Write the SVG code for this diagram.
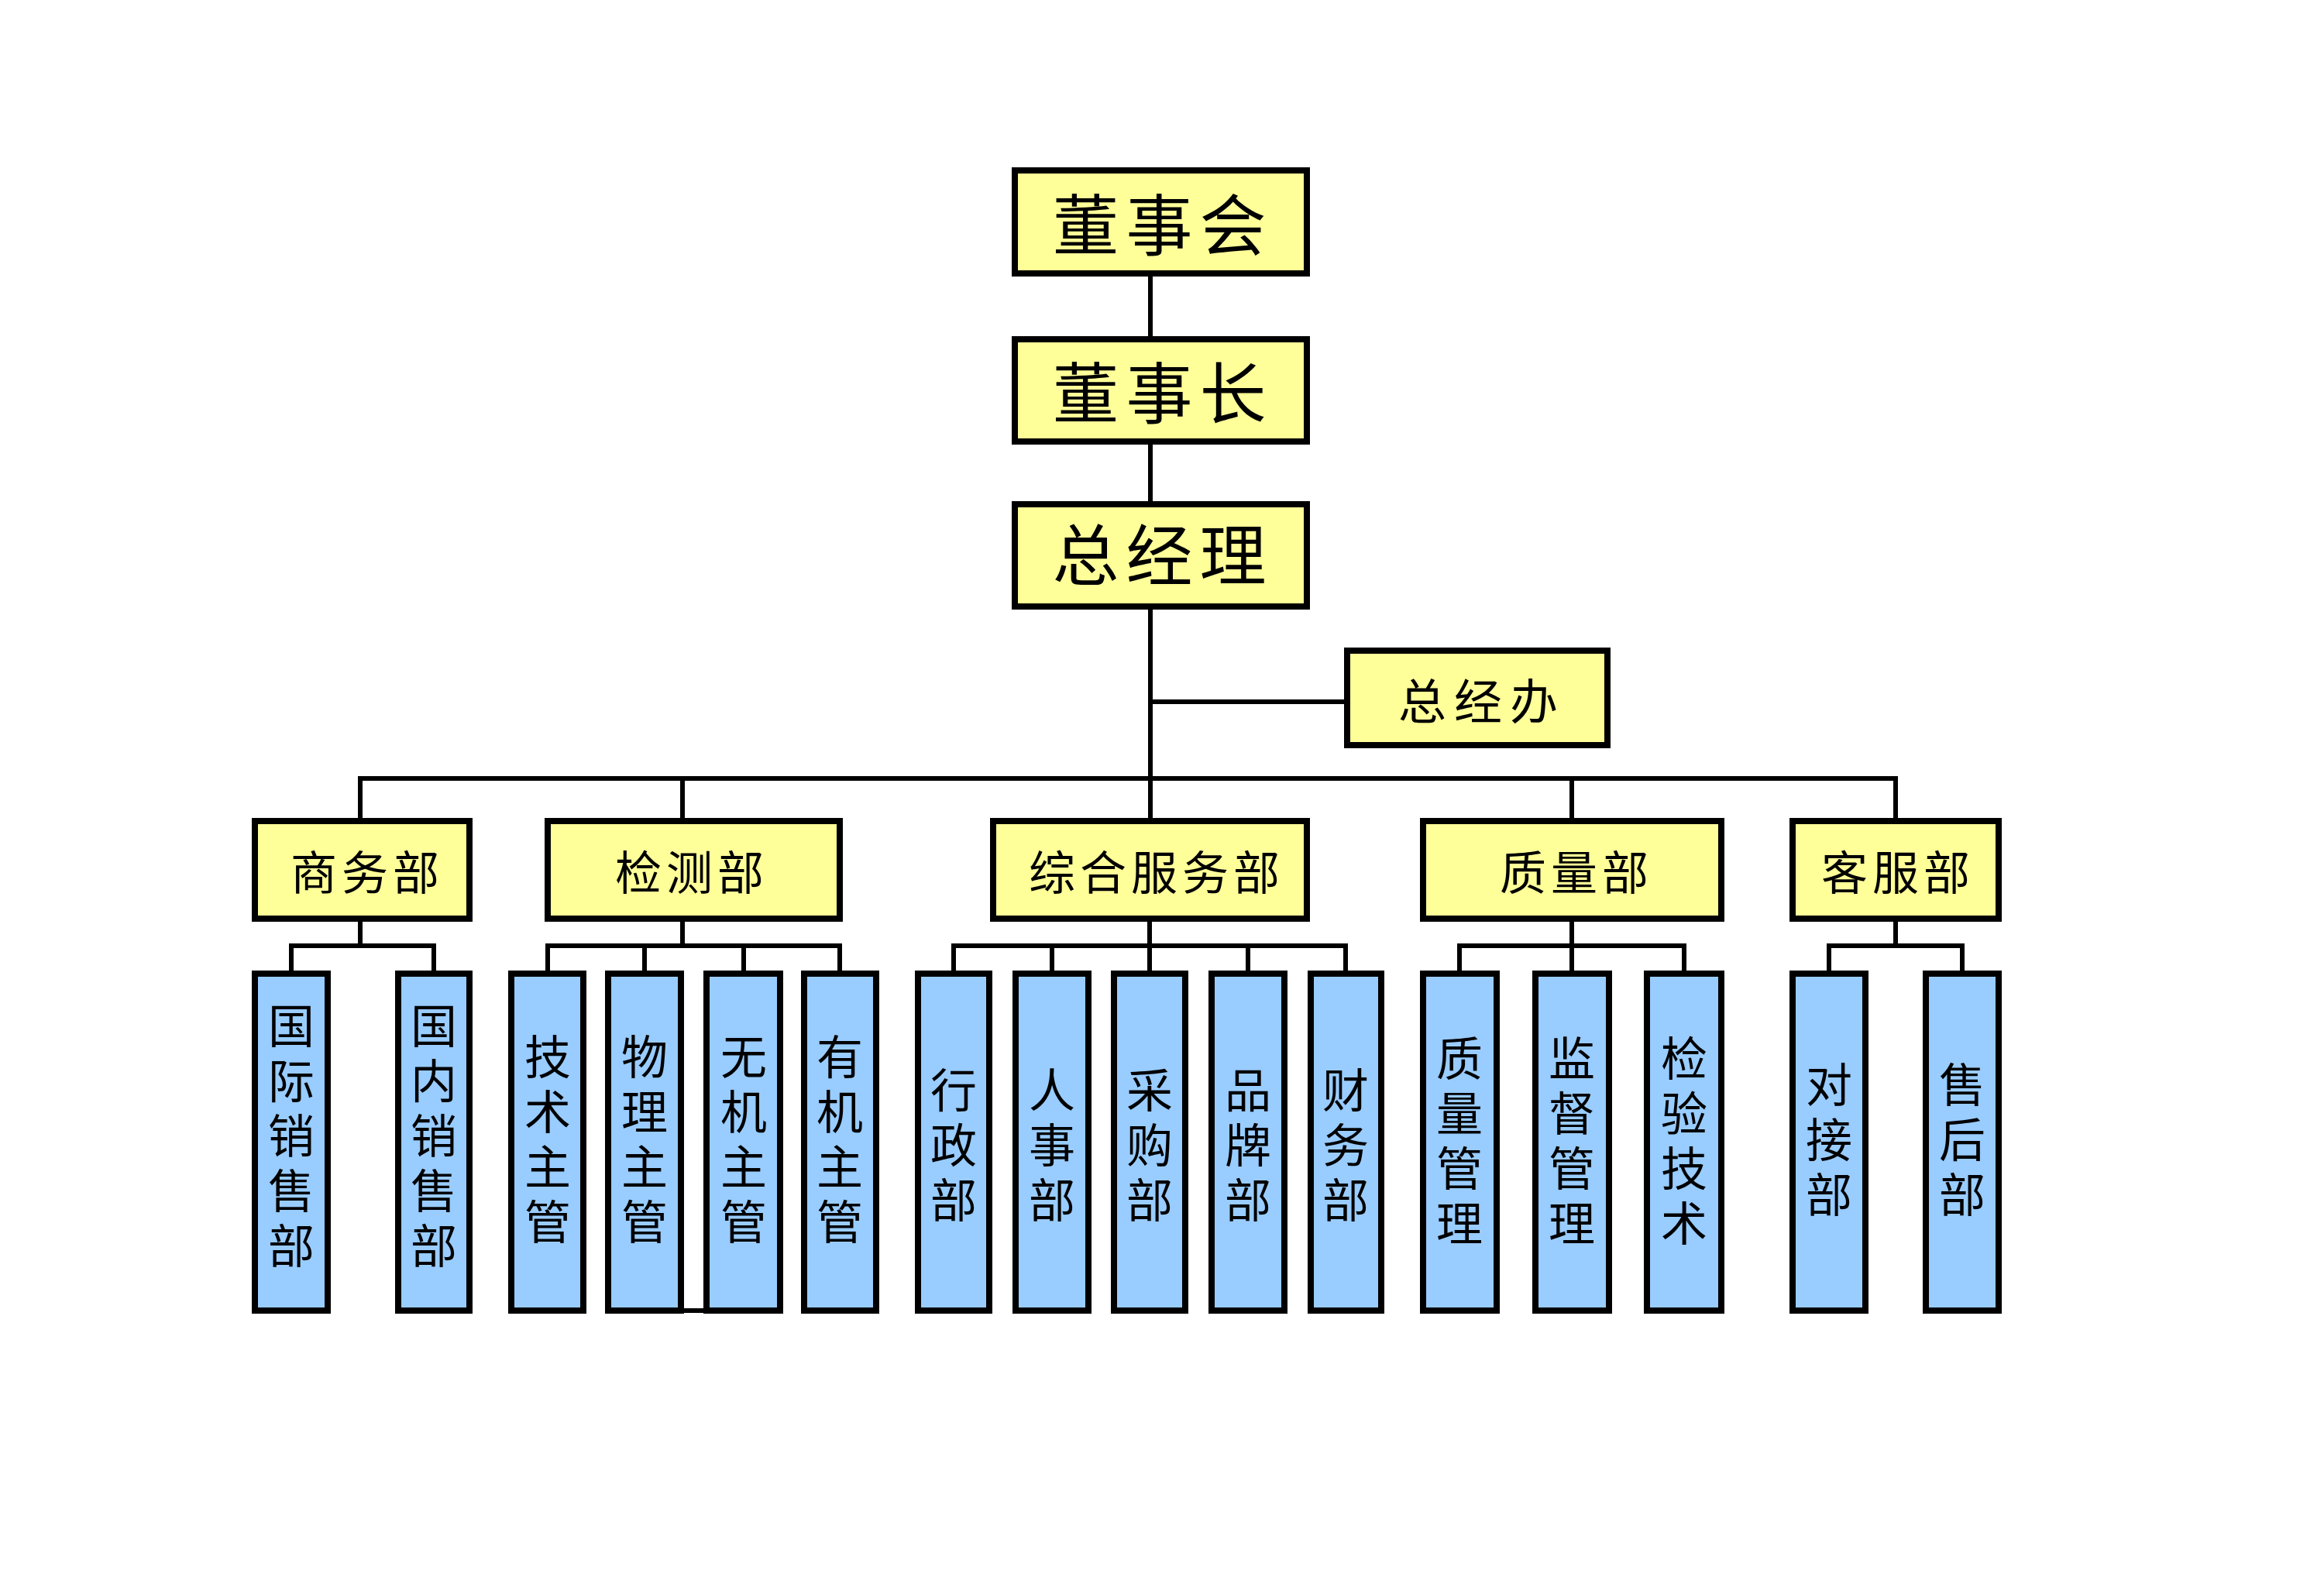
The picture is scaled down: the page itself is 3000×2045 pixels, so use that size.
<svg xmlns="http://www.w3.org/2000/svg" width="3000" height="2045" viewBox="0 0 3000 2045">
<style>
.y{fill:#FFFF99;stroke:#000;stroke-width:8}
.b{fill:#99CCFF;stroke:#000;stroke-width:8}
.c{fill:none;stroke:#000;stroke-width:6;stroke-linejoin:miter;stroke-linecap:square}
.t{font-family:"Noto Sans CJK SC","Noto Sans",sans-serif;fill:#000;text-anchor:middle}
.top{font-size:86px;letter-spacing:9px}
.mid{font-size:60px;letter-spacing:6px}
.v{font-size:60px;letter-spacing:11px;writing-mode:vertical-rl}
</style>
<rect width="3000" height="2045" fill="#fff"/>
<g id="connectors">
<path class="c" d="M1485,357V434M1485,574V647M1485,787V1056M1485,906H1735"/>
<path class="c" d="M465,1056V1005H2447V1056M881,1005V1056M2029,1005V1056"/>
<path class="c" d="M465,1190V1221M376,1253V1221H560V1253"/>
<path class="c" d="M881,1190V1221M707,1253V1221H1084V1253M832,1221V1253M960,1221V1253"/>
<path class="c" d="M1484,1190V1253M1231,1253V1221H1737V1253M1358,1221V1253M1611,1221V1253"/>
<path class="c" d="M2029,1190V1253M1884,1253V1221H2174V1253"/>
<path class="c" d="M2447,1190V1221M2361,1253V1221H2533V1253"/>
<path class="c" d="M883,1692H908"/>
</g>
<g id="dongshihui"><rect class="y" x="1310" y="220" width="377" height="133"/><text class="t top" x="1501" y="323">董事会</text></g>
<g id="dongshizhang"><rect class="y" x="1310" y="438" width="377" height="132"/><text class="t top" x="1501" y="540">董事长</text></g>
<g id="zongjingli"><rect class="y" x="1310" y="651" width="377" height="132"/><text class="t top" x="1501" y="749">总经理</text></g>
<g id="zongjingban"><rect class="y" x="1739" y="840" width="336" height="122"/><text class="t" x="1913" y="929" style="font-size:62px;letter-spacing:10px">总经办</text></g>
<g id="shangwubu"><rect class="y" x="329" y="1060" width="277" height="126"/><text class="t mid" x="474" y="1149">商务部</text></g>
<g id="jiancebu"><rect class="y" x="707" y="1060" width="377" height="126"/><text class="t mid" x="893" y="1149">检测部</text></g>
<g id="zonghefuwubu"><rect class="y" x="1282" y="1060" width="405" height="126"/><text class="t mid" x="1493" y="1149">综合服务部</text></g>
<g id="zhiliangbu"><rect class="y" x="1837" y="1060" width="385" height="126"/><text class="t mid" x="2035" y="1149">质量部</text></g>
<g id="kefubu"><rect class="y" x="2314" y="1060" width="266" height="126"/><text class="t mid" x="2450" y="1149">客服部</text></g>
<g id="guojixiaoshoubu"><rect class="b" x="329" y="1257" width="94" height="435"/><text class="t v" x="376" y="1472">国际销售部</text></g>
<g id="guoneixiaoshoubu"><rect class="b" x="514" y="1257" width="92" height="435"/><text class="t v" x="560" y="1472">国内销售部</text></g>
<g id="jishuzhuguan"><rect class="b" x="660" y="1257" width="93" height="435"/><text class="t v" x="707" y="1476">技术主管</text></g>
<g id="wulizhuguan"><rect class="b" x="785" y="1257" width="94" height="435"/><text class="t v" x="832" y="1476">物理主管</text></g>
<g id="wujizhuguan"><rect class="b" x="912" y="1257" width="95" height="435"/><text class="t v" x="960" y="1476">无机主管</text></g>
<g id="youjizhuguan"><rect class="b" x="1038" y="1257" width="93" height="435"/><text class="t v" x="1084" y="1476">有机主管</text></g>
<g id="xingzhengbu"><rect class="b" x="1185" y="1257" width="92" height="435"/><text class="t v" x="1231" y="1484">行政部</text></g>
<g id="renshibu"><rect class="b" x="1311" y="1257" width="94" height="435"/><text class="t v" x="1358" y="1484">人事部</text></g>
<g id="caigoubu"><rect class="b" x="1438" y="1257" width="92" height="435"/><text class="t v" x="1484" y="1484">采购部</text></g>
<g id="pinpaibu"><rect class="b" x="1564" y="1257" width="94" height="435"/><text class="t v" x="1611" y="1484">品牌部</text></g>
<g id="caiwubu"><rect class="b" x="1692" y="1257" width="91" height="435"/><text class="t v" x="1737" y="1484">财务部</text></g>
<g id="zhilianguanli"><rect class="b" x="1837" y="1257" width="95" height="435"/><text class="t v" x="1884" y="1478">质量管理</text></g>
<g id="jianduguanli"><rect class="b" x="1982" y="1257" width="95" height="435"/><text class="t v" x="2029" y="1478">监督管理</text></g>
<g id="jianyanjishu"><rect class="b" x="2126" y="1257" width="96" height="435"/><text class="t v" x="2174" y="1478">检验技术</text></g>
<g id="duijiebu"><rect class="b" x="2314" y="1257" width="94" height="435"/><text class="t v" x="2361" y="1477">对接部</text></g>
<g id="shouhoubu"><rect class="b" x="2486" y="1257" width="94" height="435"/><text class="t v" x="2533" y="1477">售后部</text></g>
</svg>
